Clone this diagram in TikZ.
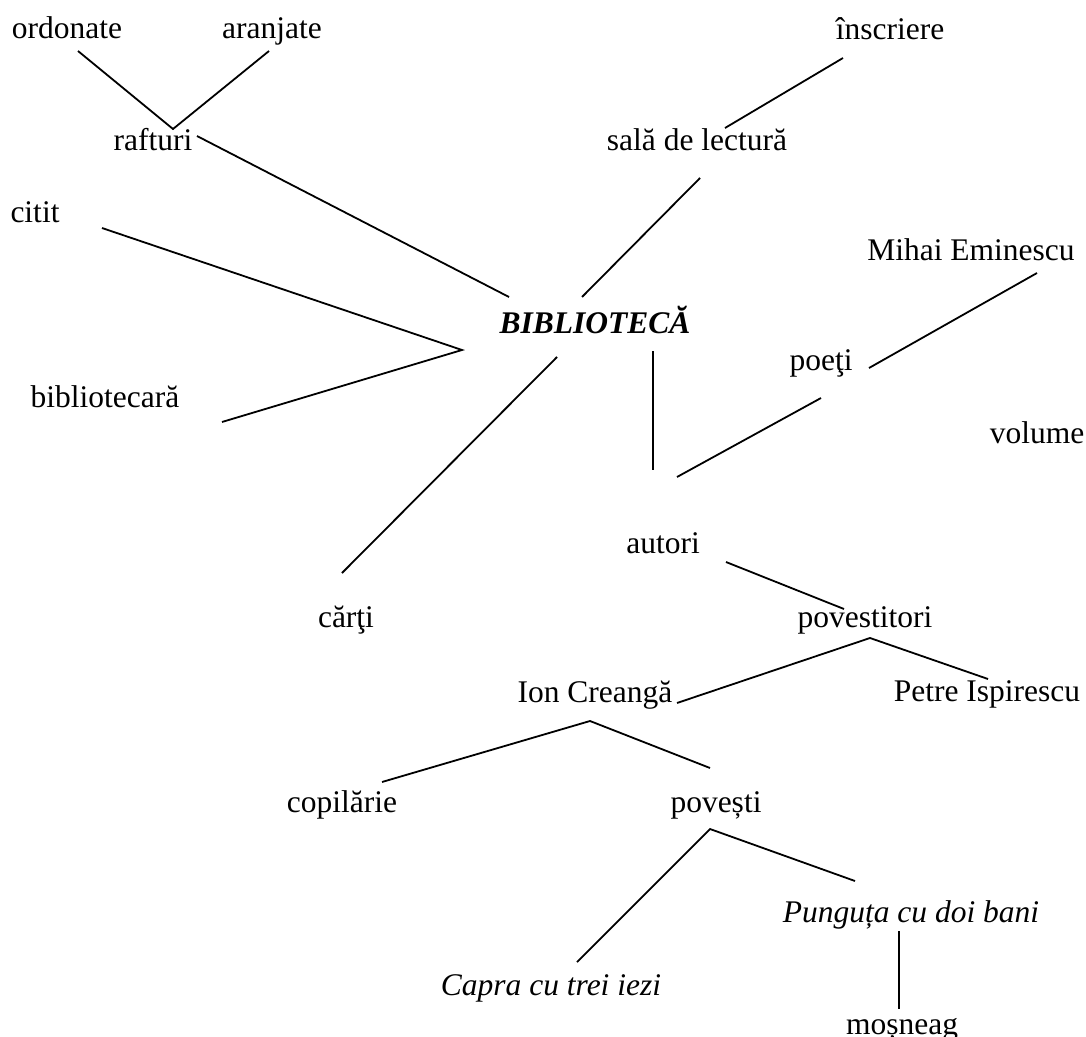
\documentclass[tikz,border=0pt]{standalone}
\usepackage{fontspec}
\setmainfont{Liberation Serif}
\begin{document}
\begin{tikzpicture}[x=1pt, y=-1pt, line width=1.8pt,
    cuvant/.style={inner sep=0pt, anchor=base, font=\fontsize{31.5}{38}\selectfont},
    titlu/.style={cuvant, font=\fontsize{31.5}{38}\selectfont\bfseries\itshape},
    carte/.style={cuvant, font=\fontsize{31.5}{38}\selectfont\itshape}]
    \useasboundingbox (0,0) rectangle (1086,1036);

    % Cuvantul central
    \node[titlu] (biblio) at (595,333) {BIBLIOTECĂ};

    % Cuvintele din jur
    \node[cuvant] (ordonate) at (67,38) {ordonate};
    \node[cuvant] (aranjate) at (272,38) {aranjate};
    \node[cuvant] (inscriere) at (890,39) {înscriere};
    \node[cuvant] (rafturi) at (153,150) {rafturi};
    \node[cuvant] (sala) at (697,150) {sală de lectură};
    \node[cuvant] (citit) at (35,222) {citit};
    \node[cuvant] (eminescu) at (971,260) {Mihai Eminescu};
    \node[cuvant] (poeti) at (821,370) {poeţi};
    \node[cuvant] (bibliotecara) at (105,407) {bibliotecară};
    \node[cuvant] (volume) at (1037,443) {volume};
    \node[cuvant] (autori) at (663,553) {autori};
    \node[cuvant] (carti) at (346,627) {cărţi};
    \node[cuvant] (povestitori) at (865,627) {povestitori};
    \node[cuvant] (creanga) at (595,702) {Ion Creangă};
    \node[cuvant] (ispirescu) at (987,701) {Petre Ispirescu};
    \node[cuvant] (copilarie) at (342,812) {copilărie};
    \node[cuvant] (povesti) at (716,812) {povești};
    \node[carte] (punguta) at (911,922) {Punguța cu doi bani};
    \node[carte] (capra) at (551,995) {Capra cu trei iezi};
    \node[cuvant] (mosneag) at (902,1034) {moșneag};

    % Capetele liniilor
    \coordinate (ord-c) at (78,51);
    \coordinate (ara-c) at (269,51);
    \coordinate (raf-n) at (173,129);
    \coordinate (raf-e) at (197,136);
    \coordinate (bib-nv) at (509,297);
    \coordinate (bib-n) at (582,297);
    \coordinate (ins-c) at (843,58);
    \coordinate (sala-n) at (725,128);
    \coordinate (sala-s) at (700,178);
    \coordinate (citit-c) at (102,228);
    \coordinate (bib-v) at (462,350);
    \coordinate (bibl-c) at (222,422);
    \coordinate (bib-sv) at (557,357);
    \coordinate (carti-c) at (342,573);
    \coordinate (bib-s) at (653,351);
    \coordinate (aut-n) at (653,470);
    \coordinate (aut-ne) at (677,477);
    \coordinate (poeti-s) at (821,398);
    \coordinate (poeti-e) at (869,368);
    \coordinate (emin-c) at (1037,273);
    \coordinate (aut-se) at (726,562);
    \coordinate (pov-n) at (844,609);
    \coordinate (pov-s) at (870,638);
    \coordinate (crea-e) at (677,703);
    \coordinate (isp-c) at (988,679);
    \coordinate (crea-s) at (590,721);
    \coordinate (cop-c) at (382,782);
    \coordinate (povs-n) at (710,768);
    \coordinate (povs-s) at (710,829);
    \coordinate (capra-c) at (577,962);
    \coordinate (pung-c) at (855,881);
    \coordinate (pung-s) at (899,931);
    \coordinate (mos-c) at (899,1009);

    % Liniile
    \draw (ord-c) -- (raf-n) -- (ara-c);
    \draw (raf-e) -- (bib-nv);
    \draw (ins-c) -- (sala-n);
    \draw (sala-s) -- (bib-n);
    \draw (citit-c) -- (bib-v) -- (bibl-c);
    \draw (bib-sv) -- (carti-c);
    \draw (bib-s) -- (aut-n);
    \draw (aut-ne) -- (poeti-s);
    \draw (poeti-e) -- (emin-c);
    \draw (aut-se) -- (pov-n);
    \draw (crea-e) -- (pov-s) -- (isp-c);
    \draw (cop-c) -- (crea-s) -- (povs-n);
    \draw (capra-c) -- (povs-s) -- (pung-c);
    \draw (pung-s) -- (mos-c);
\end{tikzpicture}
\end{document}
